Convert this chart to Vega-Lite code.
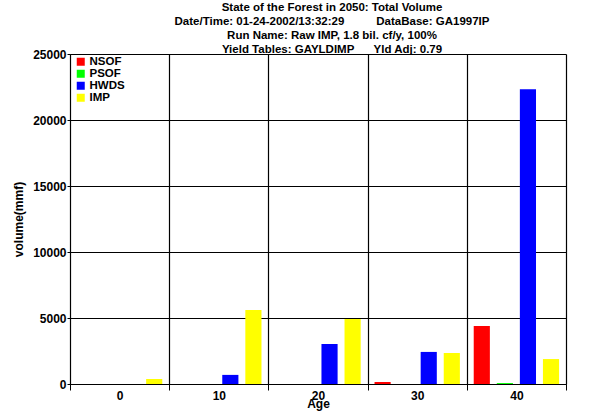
{
  "$schema": "https://vega.github.io/schema/vega-lite/v6.json",
  "width": 496,
  "height": 330,
  "autosize": {"type": "none"},
  "padding": {"left": 70, "top": 54, "right": 34, "bottom": 30},
  "background": "white",
  "title": {
    "text": [
      "State of the Forest in 2050: Total Volume",
      "Date/Time: 01-24-2002/13:32:29\u00a0\u00a0\u00a0\u00a0\u00a0\u00a0\u00a0\u00a0\u00a0\u00a0DataBase: GA1997IP",
      "Run Name: Raw IMP, 1.8 bil. cf/y, 100%",
      "Yield Tables: GAYLDIMP\u00a0\u00a0\u00a0\u00a0\u00a0\u00a0Yld Adj: 0.79"
    ],
    "font": "Liberation Sans",
    "fontSize": 11.5,
    "fontWeight": "bold",
    "lineHeight": 14,
    "color": "black",
    "anchor": "middle",
    "dx": 14,
    "offset": -7
  },
  "data": {
    "values": [
      {"age": 0, "series": "NSOF", "volume": 0},
      {"age": 0, "series": "PSOF", "volume": 0},
      {"age": 0, "series": "HWDS", "volume": 0},
      {"age": 0, "series": "IMP", "volume": 380},
      {"age": 10, "series": "NSOF", "volume": 0},
      {"age": 10, "series": "PSOF", "volume": 0},
      {"age": 10, "series": "HWDS", "volume": 690},
      {"age": 10, "series": "IMP", "volume": 5600},
      {"age": 20, "series": "NSOF", "volume": 0},
      {"age": 20, "series": "PSOF", "volume": 0},
      {"age": 20, "series": "HWDS", "volume": 3030},
      {"age": 20, "series": "IMP", "volume": 4930},
      {"age": 30, "series": "NSOF", "volume": 150},
      {"age": 30, "series": "PSOF", "volume": 0},
      {"age": 30, "series": "HWDS", "volume": 2430},
      {"age": 30, "series": "IMP", "volume": 2350},
      {"age": 40, "series": "NSOF", "volume": 4400},
      {"age": 40, "series": "PSOF", "volume": 70},
      {"age": 40, "series": "HWDS", "volume": 22330},
      {"age": 40, "series": "IMP", "volume": 1890}
    ]
  },
  "mark": {"type": "bar"},
  "encoding": {
    "x": {
      "field": "age",
      "type": "ordinal",
      "scale": {"paddingInner": 0, "paddingOuter": 0},
      "axis": {
        "title": "Age",
        "titleFont": "Liberation Sans",
        "titleFontSize": 12,
        "titleFontWeight": "bold",
        "titleColor": "black",
        "titlePadding": -3,
        "labelAngle": 0,
        "labelFont": "Liberation Sans",
        "labelFontSize": 12,
        "labelFontWeight": "bold",
        "labelColor": "black",
        "labelPadding": 0,
        "tickBand": "extent",
        "tickSize": 6,
        "tickColor": "black",
        "domainColor": "black",
        "grid": true,
        "gridColor": "black",
        "gridOpacity": 1,
        "gridWidth": 1.2
      }
    },
    "xOffset": {
      "field": "series",
      "type": "nominal",
      "sort": ["NSOF", "PSOF", "HWDS", "IMP"],
      "scale": {"paddingInner": 0.3, "paddingOuter": 0.3}
    },
    "y": {
      "field": "volume",
      "type": "quantitative",
      "scale": {"domain": [0, 25000], "nice": false},
      "axis": {
        "title": "volume(mmf)",
        "titleFont": "Liberation Sans",
        "titleFontSize": 12,
        "titleFontWeight": "bold",
        "titleColor": "black",
        "titlePadding": 7,
        "values": [0, 5000, 10000, 15000, 20000, 25000],
        "format": "d",
        "labelFont": "Liberation Sans",
        "labelFontSize": 12,
        "labelFontWeight": "bold",
        "labelColor": "black",
        "labelPadding": 1,
        "tickSize": 3,
        "tickColor": "black",
        "domainColor": "black",
        "grid": true,
        "gridColor": "black",
        "gridOpacity": 1,
        "gridWidth": 1.2
      }
    },
    "color": {
      "field": "series",
      "type": "nominal",
      "scale": {
        "domain": ["NSOF", "PSOF", "HWDS", "IMP"],
        "range": ["#ff0000", "#00ff00", "#0000ff", "#ffff00"]
      },
      "legend": {
        "title": null,
        "orient": "none",
        "legendX": 5,
        "legendY": 2,
        "padding": 0,
        "symbolType": "square",
        "symbolSize": 64,
        "symbolStrokeWidth": 0,
        "labelFont": "Liberation Sans",
        "labelFontSize": 11.5,
        "labelFontWeight": "bold",
        "labelColor": "black",
        "labelOffset": 3,
        "rowPadding": -1.2
      }
    }
  },
  "config": {"view": {"stroke": null}}
}
